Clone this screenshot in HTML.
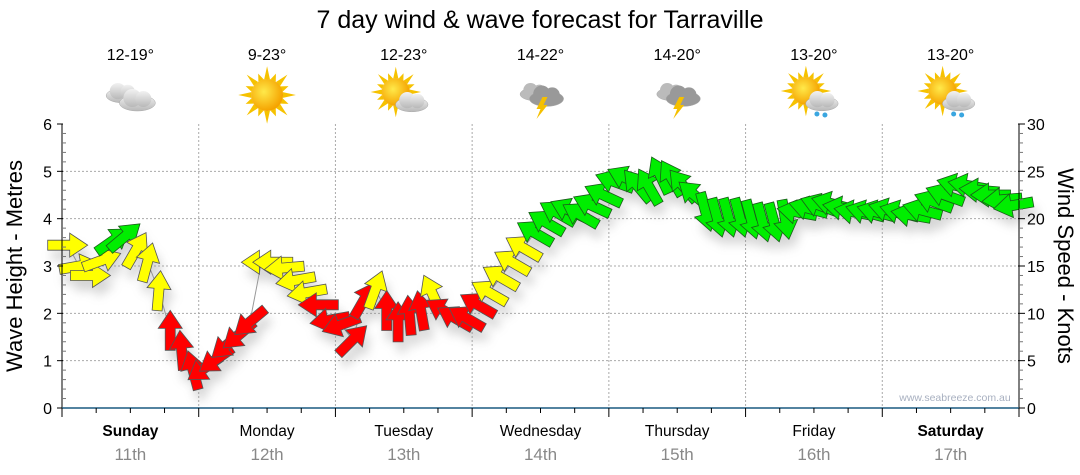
<!DOCTYPE html>
<html><head><meta charset="utf-8"><style>
body{margin:0;background:#fff;}
svg{display:block;font-family:"Liberation Sans","DejaVu Sans",sans-serif;}
</style></head><body>
<svg id="chart" width="1080" height="475" viewBox="0 0 1080 475">
<defs>
<radialGradient id="sunG" cx="40%" cy="40%" r="60%"><stop offset="0" stop-color="#ffe94a"/><stop offset="1" stop-color="#f5a300"/></radialGradient>
<linearGradient id="cloudG" x1="0" y1="0" x2="0" y2="1"><stop offset="0" stop-color="#f2f2f2"/><stop offset="1" stop-color="#b8b8b8"/></linearGradient>
<filter id="shadow" x="-50%" y="-50%" width="200%" height="200%"><feGaussianBlur stdDeviation="5"/></filter>
</defs>
<text x="540" y="28" text-anchor="middle" font-size="25">7 day wind &amp; wave forecast for Tarraville</text>
<g id="grid"></g>
<g id="icons"></g>
<g id="marks"></g>
<g id="axes"></g>
<text x="955" y="401" text-anchor="middle" font-size="10.5" fill="#a8b0c0">www.seabreeze.com.au</text>
<text transform="translate(22,266) rotate(-90)" text-anchor="middle" font-size="22">Wave Height - Metres</text>
<text transform="translate(1058,266) rotate(90)" text-anchor="middle" font-size="22">Wind Speed - Knots</text>
</svg>
<script>
const days=["Sunday","Monday","Tuesday","Wednesday","Thursday","Friday","Saturday"];
const dates=["11th","12th","13th","14th","15th","16th","17th"];
const boldDays=[true,false,false,false,false,false,true];
const temps=["12-19°","9-23°","12-23°","14-22°","14-20°","13-20°","13-20°"];
const icons=["cloud","sun","suncloud","storm","storm","rain","rain"];
const waveTicks=[0,1,2,3,4,5,6];
const windTicks=[0,5,10,15,20,25,30];
const hours=[1,3,5,7,9,11,13,15,17,19,21,23,25,27,29,31,33,35,37,39,41,43,45,47,49,51,53,55,57,59,61,63,65,67,69,71,73,75,77,79,81,83,85,87,89,91,93,95,97,99,101,103,105,107,109,111,113,115,117,119,121,123,125,127,129,131,133,135,137,139,141,143,145,147,149,151,153,155,157,159,161,163,165,167];
const windKnots=[17.2,15.0,14.0,15.6,17.7,18.1,16.7,15.4,12.4,8.2,6.1,4.0,
4.2,5.1,6.7,7.7,9.1,15.4,15.4,14.8,13.5,12.2,10.9,9.3,
8.8,7.2,11.4,12.5,10.3,9.1,9.8,10.3,12.1,10.3,9.5,9.5,
10.9,12.2,13.8,15.4,16.9,18.5,19.6,20.6,20.9,20.4,21.4,22.5,
23.9,24.3,23.5,23.4,24.6,24.3,23.5,22.5,20.7,20.1,20.1,20.1,
19.9,19.6,19.6,19.9,20.7,21.1,21.4,21.6,21.1,20.7,20.7,20.7,
20.9,20.7,20.4,20.9,21.8,22.5,23.5,23.5,23.0,22.5,22.0,21.4];
const windDir=[0,-10,0,-20,-35,-40,-60,-75,-85,-90,-95,-105,
145,145,140,140,140,180,180,175,170,170,180,170,
160,-45,-60,-70,-90,-90,-95,-100,-115,-150,-150,-150,
-150,-150,-150,-150,-150,-150,-150,-150,-155,-150,-155,-155,
-160,-155,-130,-120,-115,-120,-130,-140,75,75,75,75,
75,75,75,80,-170,-165,-160,-165,-170,-170,-165,-165,
-165,-165,-170,-165,-160,-160,-165,-170,-175,180,175,170];

const X0=62,X1=1019,Y0=408,Y1=124;
const xH=h=>X0+(h/168)*(X1-X0);
const yW=m=>Y0-(m/6)*(Y0-Y1);
const yK=k=>Y0-(k/30)*(Y0-Y1);
const NS="http://www.w3.org/2000/svg";
function mk(tag,attrs,parent){const e=document.createElementNS(NS,tag);for(const k in attrs)e.setAttribute(k,attrs[k]);parent.appendChild(e);return e;}
const grid=document.getElementById('grid'),axes=document.getElementById('axes'),marks=document.getElementById('marks'),iconsG=document.getElementById('icons');

// grid
waveTicks.forEach(v=>{if(v>0&&v<6){const l=mk('line',{x1:X0,x2:X1,y1:yW(v),y2:yW(v),stroke:'#aaa','stroke-dasharray':'2,2'},grid);

}});
for(let d=1;d<7;d++){const l=mk('line',{x1:xH(d*24),x2:xH(d*24),y1:Y1,y2:Y0,stroke:'#aaa','stroke-dasharray':'2,2'},grid);

}

// axes
mk('line',{x1:X0,x2:X0,y1:Y1,y2:Y0,stroke:'#000'},axes);
mk('line',{x1:X1,x2:X1,y1:Y1,y2:Y0,stroke:'#000'},axes);
for(let i=0;i<=30;i++){const y=Y0-i*(Y0-Y1)/30;const major=i%5===0;
mk('line',{x1:X0-(major?5:0),x2:X0+(major?1:4),y1:y,y2:y,stroke:major?'#000':'#777'},axes);
mk('line',{x1:X1-(major?1:0),x2:X1+(major?6:4),y1:y,y2:y,stroke:major?'#000':'#777'},axes);}
waveTicks.forEach(v=>{const t=mk('text',{x:X0-10,y:yW(v)+6,'text-anchor':'end','font-size':16},axes);t.textContent=v;

});
windTicks.forEach(v=>{const t=mk('text',{x:X1+8,y:yK(v)+6,'font-size':16},axes);t.textContent=v;

});
mk('line',{x1:X0,x2:X1,y1:Y0,y2:Y0,stroke:'#1a5a80','stroke-width':1.5},axes);
for(let h=0;h<=168;h+=6){const x=xH(h);mk('line',{x1:x,x2:x,y1:Y0,y2:Y0+(h%24===0?9:5),stroke:'#000'},axes);}
days.forEach((d,i)=>{const cx=xH(i*24+12);
const t=mk('text',{x:cx,y:436,'text-anchor':'middle','font-size':15.5,'font-weight':boldDays[i]?'bold':'normal'},axes);t.textContent=d;


const t2=mk('text',{x:cx,y:460,'text-anchor':'middle','font-size':17,fill:'#888'},axes);t2.textContent=dates[i];


const t3=mk('text',{x:cx,y:60,'text-anchor':'middle','font-size':16},iconsG);t3.textContent=temps[i];


drawIcon(icons[i],cx,95);});

function sun(g,x,y,r){for(let a=0;a<360;a+=22.5){const rad=a*Math.PI/180,L=(a/22.5)%2?r*1.45:r*1.8;
mk('polygon',{points:`${x+Math.cos(rad)*L},${y+Math.sin(rad)*L} ${x+Math.cos(rad+0.18)*r},${y+Math.sin(rad+0.18)*r} ${x+Math.cos(rad-0.18)*r},${y+Math.sin(rad-0.18)*r}`,fill:'#f6c200'},g);}
mk('circle',{cx:x,cy:y,r:r,fill:'url(#sunG)'},g);}
function cloud(g,x,y,s,fill){mk('ellipse',{cx:x,cy:y+4*s,rx:18*s,ry:8*s,fill:fill||'url(#cloudG)',stroke:'#aaa','stroke-width':0.5},g);
mk('circle',{cx:x-5*s,cy:y-1*s,r:9*s,fill:fill||'url(#cloudG)'},g);mk('circle',{cx:x+6*s,cy:y,r:8*s,fill:fill||'url(#cloudG)'},g);}
function drawIcon(type,x,y){const g=mk('g',{},iconsG);


if(type==='cloud'){cloud(g,x-8,y-3,0.9);cloud(g,x+7,y+4,1);}
else if(type==='sun'){sun(g,x,y,16);}
else if(type==='suncloud'){sun(g,x-8,y-3,14);cloud(g,x+8,y+6,0.9);}
else if(type==='storm'){cloud(g,x-6,y-4,0.8,'#bbb');cloud(g,x+6,y,0.95,'#999');mk('polygon',{points:`${x+2},${y+2} ${x-4},${y+14} ${x},${y+14} ${x-4},${y+24} ${x+7},${y+10} ${x+3},${y+10} ${x+7},${y+2}`,fill:'#f5c000'},g);}
else{sun(g,x-8,y-4,14);cloud(g,x+8,y+5,0.9);mk('circle',{cx:x+3,cy:y+19,r:2.5,fill:'#3aa6e0'},g);mk('circle',{cx:x+11,cy:y+20,r:2.5,fill:'#3aa6e0'},g);}}

// wind line & arrows
const pts=hours.map((h,i)=>xH(h)+','+yK(windKnots[i])).join(' ');
const line=mk('polyline',{points:pts,fill:'none',stroke:'#999','stroke-width':1},marks);


const shad=mk('g',{filter:'url(#shadow)',opacity:0.35,transform:'translate(4,10)'},marks);
const arrowPts="-20,-5 2,-5 2,-12 20,0 2,12 2,5 -20,5";
hours.forEach((h,i)=>{const x=xH(h),y=yK(windKnots[i]);
mk('polygon',{points:arrowPts,fill:'#888',transform:`translate(${x},${y}) rotate(${windDir[i]})`},shad);});
hours.forEach((h,i)=>{const x=xH(h),y=yK(windKnots[i]);const k=windKnots[i];
const col=k<12?'#ff0000':(k<17.5?'#ffff00':'#00ee00');
const a=mk('polygon',{points:arrowPts,fill:col,stroke:k>=17.5?'#1a5a1a':'#555','stroke-width':0.8,transform:`translate(${x},${y}) rotate(${windDir[i]})`},marks);

});
</script>
</body></html>
